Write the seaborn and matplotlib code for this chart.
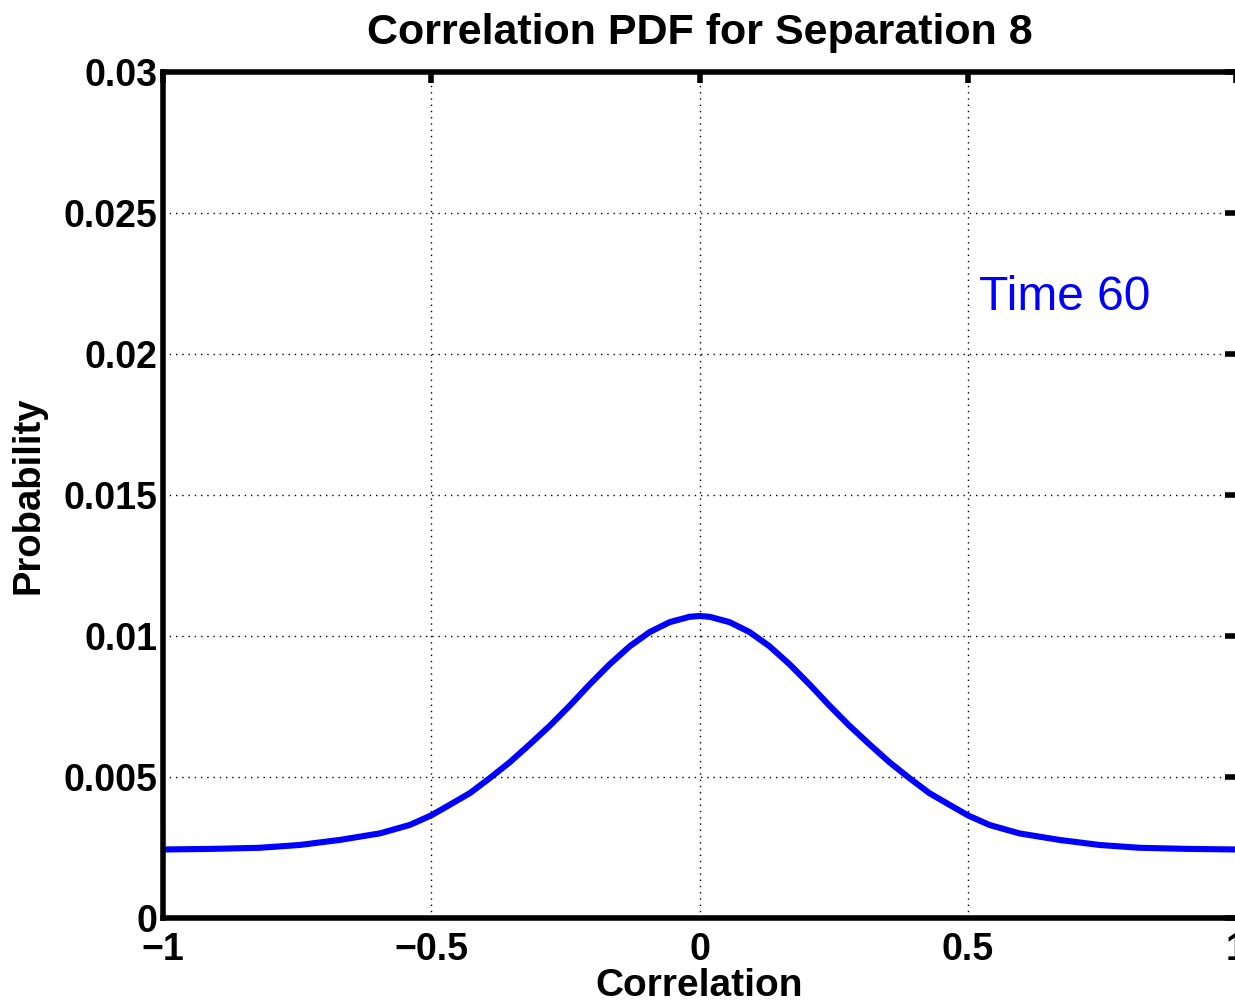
import numpy as np
import pandas as pd
import seaborn as sns
import matplotlib.pyplot as plt

# values (left half, right half mirrors it)
corr_left = [-1.0, -0.91, -0.82, -0.745, -0.67, -0.596, -0.54, -0.5, -0.466,
             -0.428, -0.391, -0.354, -0.317, -0.279, -0.242, -0.205, -0.168,
             -0.13, -0.093, -0.056, -0.019]
prob_left = [0.00243, 0.00245, 0.00249, 0.00259, 0.00277, 0.00300, 0.00330,
             0.00364, 0.00401, 0.00443, 0.00496, 0.00552, 0.00615, 0.00682,
             0.00753, 0.00828, 0.00899, 0.00964, 0.01014, 0.01049, 0.01068]
peak_x = [0.0]
peak_y = [0.01071]
corr = corr_left + peak_x + [-v for v in corr_left[::-1]]
prob = prob_left + peak_y + prob_left[::-1]

xticks = [-1, -0.5, 0, 0.5, 1]
xtick_labels = ["\u22121", "\u22120.5", "0", "0.5", "1"]
yticks = [0, 0.005, 0.01, 0.015, 0.02, 0.025, 0.03]
ytick_labels = ["0", "0.005", "0.01", "0.015", "0.02", "0.025", "0.03"]

df = pd.DataFrame({"Correlation": corr, "Probability": prob})

sns.set_style("white")
plt.rcParams["font.family"] = ["Liberation Sans", "DejaVu Sans"]
plt.rcParams["text.color"] = "black"
plt.rcParams["axes.labelcolor"] = "black"
plt.rcParams["xtick.color"] = "black"
plt.rcParams["ytick.color"] = "black"

fig = plt.figure(figsize=(12.35, 10.05), dpi=100)
ax = fig.add_axes([163 / 1235, 87 / 1005, 1 - 163 / 1235 + 0.001, 846 / 1005])

sns.lineplot(data=df, x="Correlation", y="Probability", ax=ax, color="#0000ff",
             linewidth=4.4, solid_joinstyle="round")

ax.set_xlim(-1, 1)
ax.set_ylim(0, 0.03)
ax.set_xticks(xticks)
ax.set_xticklabels(xtick_labels)
ax.set_yticks(yticks)
ax.set_yticklabels(ytick_labels)
ax.grid(True, color="black", linestyle=(0, (1, 3.5)), linewidth=1.0)
for s in ax.spines.values():
    s.set_linewidth(4)
    s.set_color("black")
ax.tick_params(direction="in", length=8, width=4, top=True, right=True,
               labelsize=27, colors="black")
ax.tick_params(axis="x", pad=10)
ax.tick_params(axis="y", pad=4)
for lab in ax.get_xticklabels() + ax.get_yticklabels():
    lab.set_fontweight("bold")

ax.set_xlabel("Correlation", fontsize=28, fontweight="bold", labelpad=0)
ax.set_ylabel("Probability", fontsize=27.5, fontweight="bold", labelpad=12)
ax.set_title("Correlation PDF for Separation 8", fontsize=31, fontweight="bold", pad=20)
ax.text(0.52, 0.022, "Time 60", color="#0000ff", fontsize=34.5, va="center", ha="left")

fig.savefig("out.png", dpi=100)
